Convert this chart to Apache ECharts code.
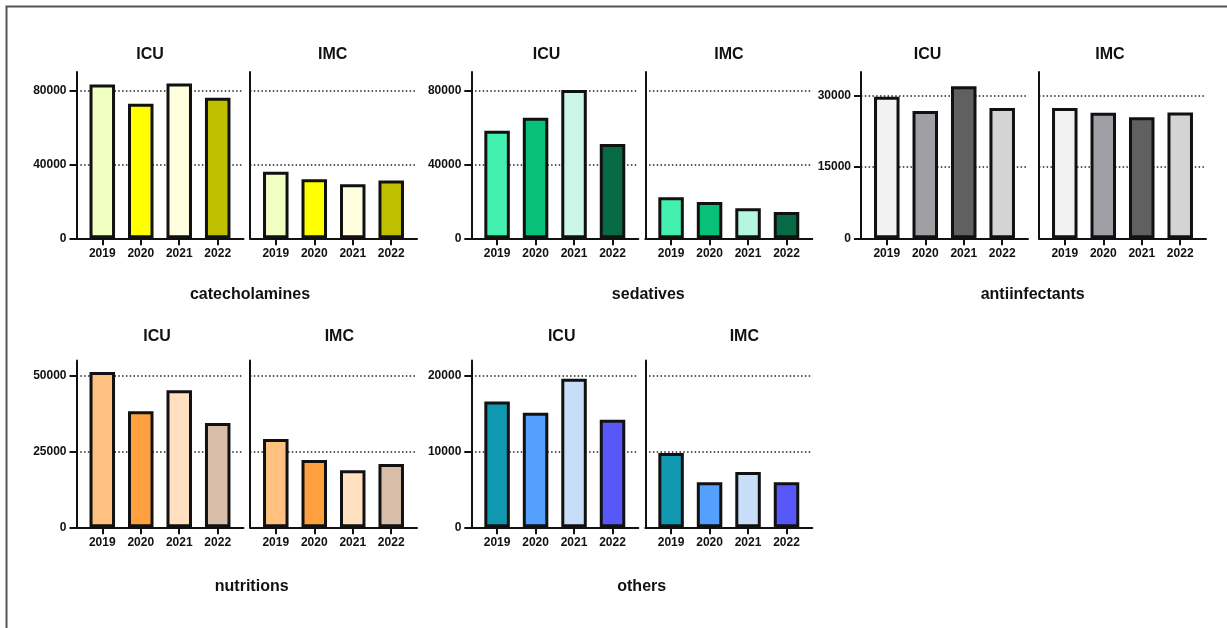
<!DOCTYPE html>
<html><head><meta charset="utf-8">
<script src="https://cdn.jsdelivr.net/npm/echarts@6/dist/echarts.min.js"></script>
<style>html,body{margin:0;padding:0;background:#fff}#c{width:1227px;height:628px}</style>
</head><body><div id="c"></div>
<script>
// ---------- data ----------
const years = ['2019', '2020', '2021', '2022'];

const catecholaminesICU = [83200, 72800, 83800, 76000];
const catecholaminesIMC = [36000, 32000, 29200, 31300];
const sedativesICU = [58200, 65200, 80300, 51100];
const sedativesIMC = [22200, 19600, 16200, 14200];
const antiinfectantsICU = [29800, 26800, 32000, 27400];
const antiinfectantsIMC = [27400, 26400, 25500, 26500];
const nutritionsICU = [51200, 38300, 45200, 34400];
const nutritionsIMC = [29100, 22200, 18800, 20900];
const othersICU = [16600, 15100, 19600, 14200];
const othersIMC = [9800, 5950, 7300, 5950];

const catecholaminesTicks = [0, 40000, 80000];
const sedativesTicks = [0, 40000, 80000];
const antiinfectantsTicks = [0, 15000, 30000];
const nutritionsTicks = [0, 25000, 50000];
const othersTicks = [0, 10000, 20000];

const catecholaminesMax = 90000;
const sedativesMax = 90000;
const antiinfectantsMax = 35000;
const nutritionsMax = 55000;
const othersMax = 22000;

const catecholaminesColors = ['#F2FFC2', '#FFFF00', '#FFFFE0', '#C0C000'];
const sedativesColorsICU = ['#44F0B0', '#08C078', '#CCF7E6', '#066B45'];
const sedativesColorsIMC = ['#44F0B0', '#08C078', '#B4F6DE', '#066B45'];
const antiinfectantsColors = ['#F2F2F2', '#A0A0A4', '#606060', '#D4D4D4'];
const nutritionsColors = ['#FFC080', '#FFA040', '#FFE0C0', '#D8BEA8'];
const othersColors = ['#1098B0', '#55A0FF', '#C8DEF8', '#5858F8'];

// ---------- layout ----------
const FONT = '"Liberation Sans", Arial, Helvetica, sans-serif';
const rows = [{top: 72, height: 166.3}, {top: 360.5, height: 166.8}];
const cols = [{icu: 76.5, imc: 250}, {icu: 471.3, imc: 645.3}, {icu: 861, imc: 1039}];
const PW = 167;

const panels = [
  {name: 'catecholamines', icu: catecholaminesICU, imc: catecholaminesIMC, cIcu: catecholaminesColors, cImc: catecholaminesColors, max: catecholaminesMax, ticks: catecholaminesTicks, row: 0, col: 0,
   tIcu: 150, tImc: 332.7, tCat: 250},
  {name: 'sedatives', icu: sedativesICU, imc: sedativesIMC, cIcu: sedativesColorsICU, cImc: sedativesColorsIMC, max: sedativesMax, ticks: sedativesTicks, row: 0, col: 1,
   tIcu: 546.5, tImc: 729, tCat: 648.3},
  {name: 'antiinfectants', icu: antiinfectantsICU, imc: antiinfectantsIMC, cIcu: antiinfectantsColors, cImc: antiinfectantsColors, max: antiinfectantsMax, ticks: antiinfectantsTicks, row: 0, col: 2,
   tIcu: 927.5, tImc: 1110, tCat: 1032.7},
  {name: 'nutritions', icu: nutritionsICU, imc: nutritionsIMC, cIcu: nutritionsColors, cImc: nutritionsColors, max: nutritionsMax, ticks: nutritionsTicks, row: 1, col: 0,
   tIcu: 157, tImc: 339.3, tCat: 251.7},
  {name: 'others', icu: othersICU, imc: othersIMC, cIcu: othersColors, cImc: othersColors, max: othersMax, ticks: othersTicks, row: 1, col: 1,
   tIcu: 561.7, tImc: 744.3, tCat: 641.7}
];
const titleY = [55, 336.7];
const catY = [294.5, 587];

const grid = [], xAxis = [], yAxis = [], series = [], graphic = [];
const idx = years.map((y, i) => i);

graphic.push({type: 'rect', shape: {x: 6.5, y: 6.5, width: 1400, height: 800}, style: {fill: 'none', stroke: '#555', lineWidth: 2}, silent: true});

function addPanel(p, which) {
  const isIcu = which === 'ICU';
  const gi = grid.length;
  grid.push({left: isIcu ? cols[p.col].icu : cols[p.col].imc, top: rows[p.row].top, width: PW, height: rows[p.row].height, containLabel: false, outerBoundsMode: 'none'});
  xAxis.push({
    type: 'value', gridIndex: gi, min: -0.67, max: years.length - 1 + 0.67,
    axisLine: {show: true, onZero: false, lineStyle: {color: '#111', width: 2}},
    axisTick: {show: true, customValues: idx, length: 7, lineStyle: {color: '#111', width: 2}},
    axisLabel: {show: true, customValues: idx, margin: 9, formatter: v => years[Math.round(v)] || '',
      color: '#111', fontSize: 12, fontWeight: 'bold', fontFamily: FONT},
    splitLine: {show: false}
  });
  yAxis.push({
    type: 'value', gridIndex: gi, min: 0, max: p.max,
    axisLine: {show: true, onZero: false, lineStyle: {color: '#111', width: 2}},
    axisTick: {show: isIcu, customValues: p.ticks, length: 7, lineStyle: {color: '#111', width: 2}},
    axisLabel: {show: isIcu, customValues: p.ticks, margin: 10, formatter: v => String(v),
      color: '#111', fontSize: 12, fontWeight: 'bold', fontFamily: FONT},
    splitLine: {show: true, lineStyle: {color: '#222', width: 1.5, type: [1.5, 2.3]}}
  });
  const vals = isIcu ? p.icu : p.imc;
  const colors = isIcu ? p.cIcu : p.cImc;
  series.push({
    type: 'bar', xAxisIndex: gi, yAxisIndex: gi, barWidth: 25.5,
    itemStyle: {borderColor: '#111', borderWidth: 3},
    data: vals.map((v, i) => ({value: [i, v], itemStyle: {color: colors[i]}}))
  });
  graphic.push({type: 'text', x: isIcu ? p.tIcu : p.tImc, y: titleY[p.row],
    style: {text: which, font: 'bold 16px ' + FONT, fill: '#111', textAlign: 'center', textVerticalAlign: 'middle', align: 'center', verticalAlign: 'middle'}});
}

panels.forEach(p => {
  addPanel(p, 'ICU');
  addPanel(p, 'IMC');
  graphic.push({type: 'text', x: p.tCat, y: catY[p.row],
    style: {text: p.name, font: 'bold 16px ' + FONT, fill: '#111', textAlign: 'center', textVerticalAlign: 'middle', align: 'center', verticalAlign: 'middle'}});
});

const chart = echarts.init(document.getElementById('c'), null, {renderer: 'canvas'});
chart.setOption({
  animation: false,
  backgroundColor: '#fff',
  grid, xAxis, yAxis, series, graphic
});
</script>
</body></html>
